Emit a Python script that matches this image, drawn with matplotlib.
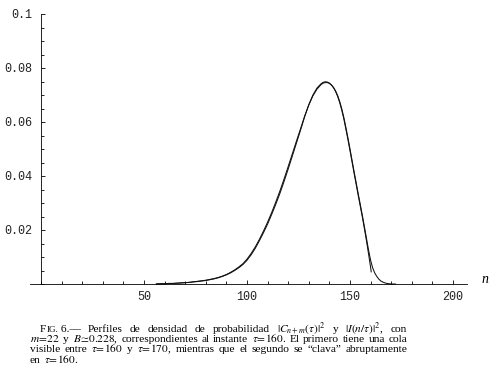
import matplotlib
matplotlib.use('Agg')
import matplotlib.pyplot as plt
from matplotlib.ticker import FixedLocator, MultipleLocator, FuncFormatter

# ---- data ----
# |I(n/tau)|^2 : sharply cut at n = 160
n_cut = [56, 58, 60, 62, 64, 66, 68, 70, 72, 74, 76, 78, 80, 82, 84, 86, 88, 90,
         92, 94, 96, 98, 100, 102, 104, 106, 108, 110, 112, 114, 116, 118, 120,
         122, 124, 126, 128, 130, 132, 134, 136, 137, 138, 139, 140, 141, 142,
         143, 144, 145, 146, 147, 148, 149, 150, 151, 152, 153, 154, 155, 156,
         157, 158, 159, 160, 160.3]
p_cut = [0.0000, 0.0001, 0.0001, 0.0002, 0.0002, 0.0003, 0.0004, 0.0005, 0.0006,
         0.0008, 0.0009, 0.0011, 0.0013, 0.0016, 0.0019, 0.0023, 0.0028, 0.0034,
         0.0041, 0.0050, 0.0060, 0.0072, 0.0088, 0.0108, 0.0132, 0.0160, 0.0190,
         0.0222, 0.0258, 0.0296, 0.0336, 0.0380, 0.0426, 0.0474, 0.0522, 0.0570,
         0.0620, 0.0664, 0.0700, 0.0726, 0.0742, 0.0747, 0.0749, 0.0748, 0.0744,
         0.0737, 0.0727, 0.0713, 0.0695, 0.0672, 0.0644, 0.0612, 0.0574, 0.0535,
         0.0494, 0.0452, 0.0410, 0.0369, 0.0328, 0.0288, 0.0248, 0.0205, 0.0160,
         0.0112, 0.0062, 0.0045]

# |C_{n+m}(tau)|^2 : with a visible tail up to n ~ 170
n_tail = [56, 58, 60, 62, 64, 66, 68, 70, 72, 74, 76, 78, 80, 82, 84, 86, 88, 90,
          92, 94, 96, 98, 100, 102, 104, 106, 108, 110, 112, 114, 116, 118, 120,
          122, 124, 126, 128, 130, 132, 134, 136, 137, 138, 139, 140, 141, 142,
          143, 144, 145, 146, 147, 148, 149, 150, 151, 152, 153, 154, 155, 156,
          157, 158, 159, 160, 161, 162, 163, 164, 165, 166, 167, 168, 169, 170, 172]
p_tail = [0.0000, 0.0001, 0.0001, 0.0002, 0.0002, 0.0003, 0.0004, 0.0005, 0.0006,
          0.0008, 0.0010, 0.0012, 0.0014, 0.0017, 0.0020, 0.0024, 0.0029, 0.0035,
          0.0043, 0.0052, 0.0063, 0.0075, 0.0092, 0.0113, 0.0137, 0.0165, 0.0196,
          0.0229, 0.0265, 0.0304, 0.0345, 0.0389, 0.0435, 0.0482, 0.0529, 0.0575,
          0.0622, 0.0663, 0.0697, 0.0722, 0.0739, 0.0744, 0.0746, 0.0746, 0.0743,
          0.0737, 0.0728, 0.0715, 0.0698, 0.0676, 0.0649, 0.0617, 0.0580, 0.0541,
          0.0500, 0.0458, 0.0416, 0.0375, 0.0334, 0.0294, 0.0254, 0.0212, 0.0169,
          0.0126, 0.0088, 0.0060, 0.0041, 0.0028, 0.0018, 0.0011, 0.0007, 0.0004,
          0.0002, 0.0001, 0.0000, 0.0000]

y_ticks = [0.02, 0.04, 0.06, 0.08, 0.1]
y_ticklabels = ['0.02', '0.04', '0.06', '0.08', '0.1']
x_ticks = [50, 100, 150, 200]
x_ticklabels = ['50', '100', '150', '200']

caption_lines = [
    [[('F', 1.0), ('IG.', 0.8), (' 6.—', 1.0)], 'Perfiles', 'de', 'densidad', 'de',
     'probabilidad', r'$|C_{n+m}(\tau)|^2$', 'y', r'$|I(n/\tau)|^2$,', 'con'],
    [r'$m\!=\!22$', 'y', r'$B\!\simeq\!0.228$,', 'correspondientes', 'al', 'instante',
     r'$\tau\!=\!160$.', 'El', 'primero', 'tiene', 'una', 'cola'],
    ['visible', 'entre', r'$\tau\!=\!160$', 'y', r'$\tau\!=\!170$,', 'mientras', 'que', 'el',
     'segundo', 'se', '“clava”', 'abruptamente'],
    ['en', r'$\tau\!=\!160$.'],
]

# ---- figure ----
plt.rcParams['mathtext.fontset'] = 'stix'
W, H = 493, 372
fig = plt.figure(figsize=(W / 100, H / 100), dpi=100)
ax = fig.add_axes([30 / W, (H - 284) / H, 437 / W, 270 / H])
ax.set_xlim(-5.34, 206.8)
ax.set_ylim(0, 0.1)

ax.plot(n_tail, p_tail, color='#111111', lw=0.75, clip_on=False)
ax.plot(n_cut, p_cut, color='#111111', lw=0.75, clip_on=False)

for s in ('top', 'right'):
    ax.spines[s].set_visible(False)
ax.spines['left'].set_position(('data', 0))
ax.spines['left'].set_bounds(0, 0.1)
ax.spines['bottom'].set_position(('data', 0))
for s in ('left', 'bottom'):
    ax.spines[s].set_linewidth(0.6)

ax.yaxis.set_major_locator(FixedLocator(y_ticks))
ax.yaxis.set_minor_locator(MultipleLocator(0.005))
ax.yaxis.set_major_formatter(FuncFormatter(
    lambda v, p: y_ticklabels[y_ticks.index(round(v, 3))] if round(v, 3) in y_ticks else ''))
ax.xaxis.set_major_locator(FixedLocator(x_ticks))
ax.xaxis.set_minor_locator(MultipleLocator(10))
ax.xaxis.set_major_formatter(FuncFormatter(
    lambda v, p: x_ticklabels[x_ticks.index(int(round(v)))] if int(round(v)) in x_ticks else ''))

ax.tick_params(which='both', direction='in', width=0.6, colors='black')
ax.tick_params(which='major', length=3.2)
ax.tick_params(which='minor', length=2.0)
ax.tick_params(axis='y', pad=6)
ax.tick_params(axis='x', pad=5)
for lab in ax.get_xticklabels() + ax.get_yticklabels():
    lab.set_family('Liberation Mono')
    lab.set_fontsize(8.5)
    lab.set_color('#222222')

fig.text(482 / W, 1 - 283 / H, 'n', family='Liberation Serif', style='italic',
         fontsize=10, va='baseline', ha='left')

# ---- caption, justified word by word ----
FS = 8.2
renderer = fig.canvas.get_renderer()


def make_token(tok, y):
    parts = tok if isinstance(tok, list) else [(tok, 1.0)]
    arts = []
    for txt, scale in parts:
        t = fig.text(0, y, txt, fontsize=FS * scale, family='Liberation Serif',
                     va='baseline', ha='left')
        arts.append(t)
    widths = [a.get_window_extent(renderer).width for a in arts]
    return arts, widths


def measure(s):
    t = fig.text(0, 0, s, fontsize=FS, family='Liberation Serif')
    w = t.get_window_extent(renderer).width
    t.remove()
    return w


SPACE = measure('a a') - measure('aa')


def place_line(tokens, x0, x1, ybase, justify=True):
    y = 1 - ybase / H
    items = [make_token(t, y) for t in tokens]
    tw = [sum(w) for _, w in items]
    if justify and len(items) > 1:
        gap = max((x1 - x0 - sum(tw)) / (len(items) - 1), SPACE * 0.9)
    else:
        gap = SPACE
    x = x0
    for (arts, widths), w in zip(items, tw):
        xx = x
        for a, aw in zip(arts, widths):
            a.set_x(xx / W)
            xx += aw
        x += w + gap


place_line(caption_lines[0], 40, 407, 331.5)
place_line(caption_lines[1], 30, 407, 342)
place_line(caption_lines[2], 30, 407, 352.5)
place_line(caption_lines[3], 30, 407, 363, justify=False)

fig.savefig('out.png', dpi=100)
